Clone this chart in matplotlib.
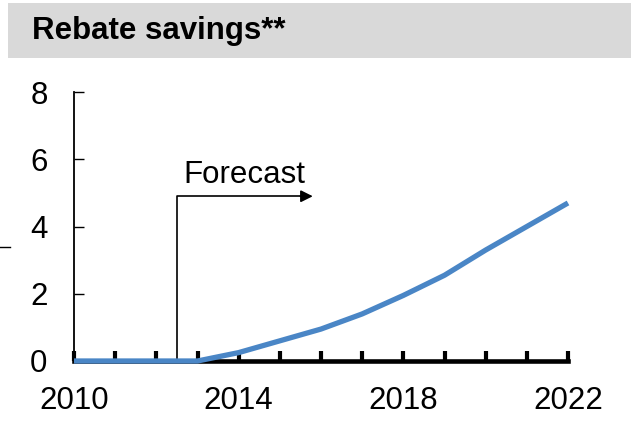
import matplotlib
matplotlib.use("Agg")
import matplotlib.pyplot as plt
from matplotlib.patches import Rectangle
from matplotlib.lines import Line2D

years = [2010, 2011, 2012, 2013, 2014, 2015, 2016, 2017, 2018, 2019, 2020, 2021, 2022]
savings = [0, 0, 0, 0, 0.25, 0.6, 0.95, 1.4, 1.95, 2.55, 3.3, 4.0, 4.7]
xtick_labels = [2010, 2014, 2018, 2022]
yticks = [0, 2, 4, 6, 8]
title = "Rebate savings**"
forecast_start = 2012.5
forecast_end = 2015.8
forecast_height = 4.9

plt.rcParams['font.family'] = ['Liberation Sans', 'DejaVu Sans']

fig = plt.figure(figsize=(6.31, 4.21), dpi=100)
fig.patches.append(Rectangle((8/631, 1-58/421), 1, 55/421, transform=fig.transFigure,
                             facecolor='#d9d9d9', edgecolor='none', zorder=0))
fig.text(32/631, 1-31/421, title, fontsize=22.5, fontweight='bold', va='center', ha='left')
fig.lines.append(Line2D([0, 10/631], [1-247/421, 1-247/421], transform=fig.transFigure,
                        color='black', lw=1))

ax = fig.add_axes([74/631, 1-361/421, (568-74)/631, (361-92)/421])
ax.plot(years, savings, color='#4a86c6', lw=3.8, zorder=5, clip_on=False, solid_capstyle='butt')
ax.set_xlim(2010, 2022)
ax.set_ylim(0, 8)
ax.set_yticks(yticks)
ax.set_xticks(years)
ax.set_xticklabels([str(y) if y in xtick_labels else '' for y in years])
for s in ['top', 'right']:
    ax.spines[s].set_visible(False)
ax.spines['bottom'].set_linewidth(3.3)
ax.spines['left'].set_linewidth(1.3)
ax.tick_params(axis='x', direction='in', length=7, width=3, labelsize=22.5, pad=18)
ax.tick_params(axis='y', direction='in', length=7, width=1, labelsize=22.5, pad=19)
ax.patch.set_alpha(0)

# Forecast bracket
ax.plot([forecast_start, forecast_start, forecast_end - 0.25], [0, forecast_height, forecast_height],
        color='black', lw=1.2, zorder=3)
ax.annotate('', xy=(forecast_end, forecast_height), xytext=(forecast_end - 0.3, forecast_height),
            arrowprops=dict(arrowstyle='-|>', color='black', lw=1.2, mutation_scale=18,
                            shrinkA=0, shrinkB=0))
ax.text(2014.13, forecast_height + 0.2, 'Forecast',
        fontsize=22.5, ha='center', va='bottom')

fig.savefig('out.png', dpi=100)
